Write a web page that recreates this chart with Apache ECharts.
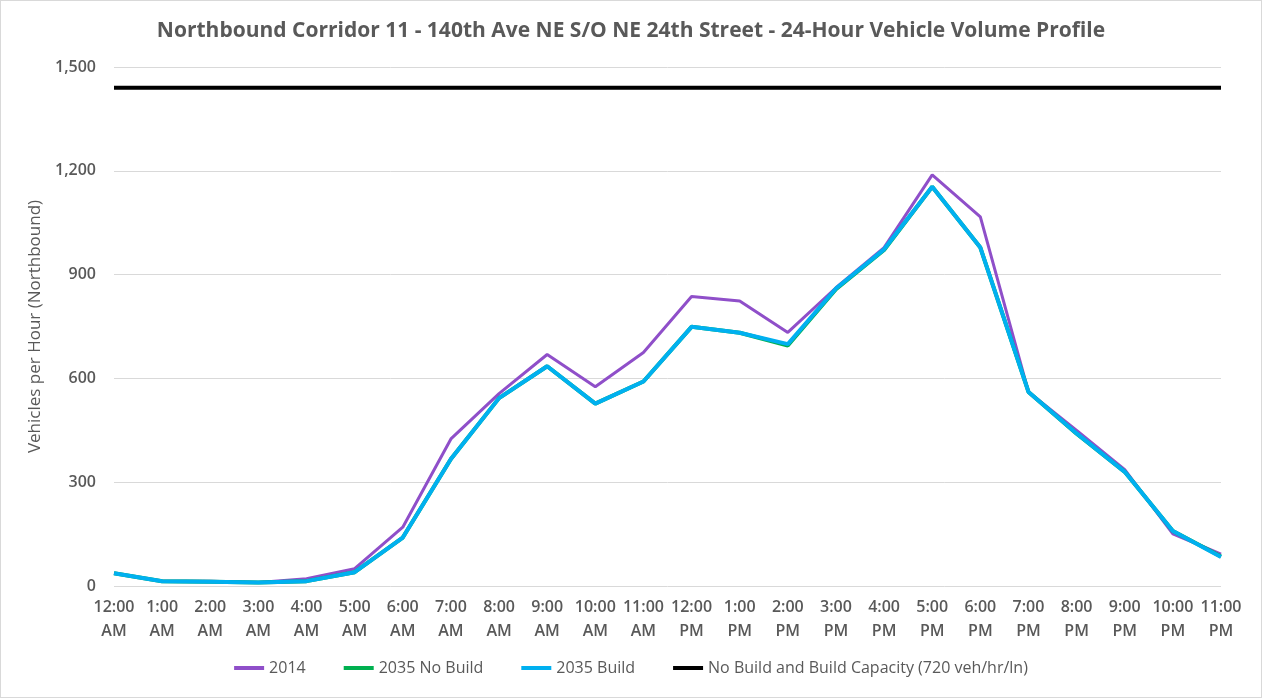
<!DOCTYPE html>
<html>
<head>
<meta charset="utf-8">
<script src="https://cdn.jsdelivr.net/npm/echarts@6/dist/echarts.min.js"></script>
<style>
  html, body { margin: 0; padding: 0; background: #fff; }
  #main { width: 1262px; height: 698px; box-sizing: border-box; border: 1px solid #d9d9d9; }
</style>
</head>
<body>
<div id="main"></div>
<script>
var hours = ['12:00\nAM', '1:00\nAM', '2:00\nAM', '3:00\nAM', '4:00\nAM', '5:00\nAM',
             '6:00\nAM', '7:00\nAM', '8:00\nAM', '9:00\nAM', '10:00\nAM', '11:00\nAM',
             '12:00\nPM', '1:00\nPM', '2:00\nPM', '3:00\nPM', '4:00\nPM', '5:00\nPM',
             '6:00\nPM', '7:00\nPM', '8:00\nPM', '9:00\nPM', '10:00\nPM', '11:00\nPM'];

var vol2014    = [37, 14, 14, 10, 21, 50, 170, 425, 556, 669, 576, 675, 837, 824, 733, 862, 978, 1188, 1067, 561, 450, 336, 151, 92];
var noBuild35  = [37, 14, 12, 10, 14, 40, 140, 367, 543, 635, 527, 591, 749, 732, 695, 858, 971, 1154, 978, 561, 440, 330, 159, 85];
var build35    = [37, 14, 12, 10, 14, 40, 140, 367, 543, 635, 527, 591, 749, 732, 699, 860, 973, 1154, 978, 561, 441, 330, 159, 84];
var capacity   = [1440, 1440, 1440, 1440, 1440, 1440, 1440, 1440, 1440, 1440, 1440, 1440,
                  1440, 1440, 1440, 1440, 1440, 1440, 1440, 1440, 1440, 1440, 1440, 1440];

var txt = '#595959';
var font = 'Open Sans';

var myChart = echarts.init(document.getElementById('main'));

option = {
    animation: false,
    title: {
        text: 'Northbound Corridor 11 - 140th Ave NE S/O NE 24th Street - 24-Hour Vehicle Volume Profile',
        left: 'center',
        top: 15,
        textStyle: { color: txt, fontSize: 21, fontWeight: 'bold', fontFamily: font }
    },
    legend: {
        bottom: 16,
        left: 'center',
        itemWidth: 30,
        itemHeight: 4,
        itemGap: 38,
        icon: 'rect',
        textStyle: { color: txt, fontSize: 16, fontFamily: font },
        data: ['2014', '2035 No Build', '2035 Build', 'No Build and Build Capacity (720 veh/hr/ln)']
    },
    grid: { left: 113, right: 40, top: 66, bottom: 111 },
    xAxis: {
        type: 'category',
        boundaryGap: false,
        data: hours,
        axisLine: { show: false },
        axisTick: { show: false },
        axisLabel: { color: txt, fontSize: 16, fontFamily: font, fontWeight: 600, lineHeight: 24, margin: 9, interval: 0 }
    },
    yAxis: {
        type: 'value',
        min: 0,
        max: 1500,
        interval: 300,
        name: 'Vehicles per Hour (Northbound)',
        nameLocation: 'middle',
        nameGap: 65,
        nameTextStyle: { color: txt, fontSize: 17, fontFamily: font },
        axisLine: { show: false },
        axisTick: { show: false },
        axisLabel: {
            color: txt, fontSize: 16, fontFamily: font, fontWeight: 600, margin: 18,
            formatter: function (v) { return v.toLocaleString('en-US'); }
        },
        splitLine: { lineStyle: { color: '#d9d9d9', width: 1 } }
    },
    series: [
        {
            name: '2014', type: 'line', data: vol2014, symbol: 'none',
            lineStyle: { color: '#8f4fc9', width: 3 }, itemStyle: { color: '#8f4fc9' }
        },
        {
            name: '2035 No Build', type: 'line', data: noBuild35, symbol: 'none',
            lineStyle: { color: '#00b050', width: 4 }, itemStyle: { color: '#00b050' }
        },
        {
            name: '2035 Build', type: 'line', data: build35, symbol: 'none',
            lineStyle: { color: '#00b0f0', width: 4 }, itemStyle: { color: '#00b0f0' }
        },
        {
            name: 'No Build and Build Capacity (720 veh/hr/ln)', type: 'line', data: capacity, symbol: 'none',
            lineStyle: { color: '#000000', width: 4 }, itemStyle: { color: '#000000' }
        }
    ]
};

myChart.setOption(option);
</script>
</body>
</html>
